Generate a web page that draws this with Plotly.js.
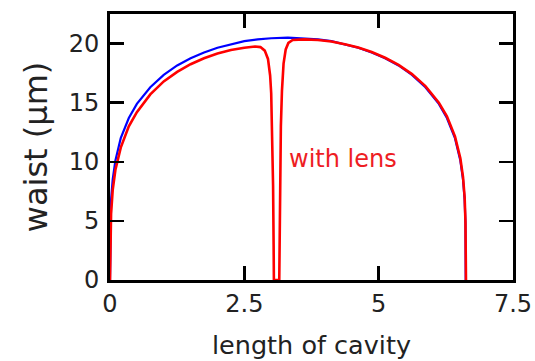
<!DOCTYPE html>
<html>
<head>
<meta charset="utf-8">
<script src="https://cdn.plot.ly/plotly-3.0.1.min.js"></script>
<style>
  html, body { margin: 0; padding: 0; background: #fff; }
  #chart { width: 535px; height: 361px; }
</style>
</head>
<body>
<div id="chart"></div>
<script>
// Beam waist along the cavity, without and with the intracavity lens
const cavityX = [0, 0.005, 0.02, 0.05, 0.1, 0.2, 0.35, 0.5, 0.75, 1.0, 1.25, 1.5, 1.75, 2.0, 2.25, 2.5, 2.75, 3.0, 3.31,
  3.62, 3.87, 4.12, 4.37, 4.62, 4.87, 5.12, 5.37, 5.62, 5.87, 6.12, 6.27, 6.42, 6.52, 6.57, 6.6, 6.615, 6.62];
const waistNoLens = [0, 4.8, 6.8, 8.5, 10.1, 12.0, 13.7, 14.9, 16.3, 17.35, 18.15, 18.75, 19.25, 19.65, 19.95, 20.2, 20.35, 20.45, 20.5,
  20.45, 20.35, 20.2, 19.95, 19.65, 19.25, 18.75, 18.15, 17.35, 16.3, 14.9, 13.7, 12.0, 10.1, 8.5, 6.8, 4.8, 0];

const lensX = [0, 0.005, 0.02, 0.05, 0.1, 0.2, 0.35, 0.5, 0.75, 1.0, 1.25, 1.5, 1.75, 2.0, 2.25, 2.5, 2.7, 2.8, 2.88, 2.94, 2.98,
  3.0, 3.02, 3.035, 3.045, 3.05, 3.15, 3.155, 3.165, 3.18, 3.2, 3.23, 3.27, 3.32, 3.4, 3.5, 3.62, 3.87, 4.12, 4.37, 4.62,
  4.87, 5.12, 5.37, 5.62, 5.87, 6.12, 6.27, 6.42, 6.52, 6.57, 6.6, 6.615, 6.625];
const waistLens = [0, 3.5, 5.6, 7.6, 9.3, 11.2, 13.0, 14.2, 15.7, 16.8, 17.6, 18.25, 18.75, 19.15, 19.45, 19.65, 19.75, 19.7, 19.4, 18.7, 17.3,
  15.8, 12.5, 8.0, 3.0, 0, 0, 3.0, 8.0, 13.0, 16.0, 18.3, 19.5, 20.05, 20.3, 20.35, 20.35, 20.3, 20.17, 19.95, 19.67,
  19.28, 18.8, 18.2, 17.42, 16.4, 15.0, 13.85, 12.15, 10.3, 8.7, 7.0, 5.0, 0];

const xTicks = [0, 2.5, 5, 7.5];
const xTickText = ['0', '2.5', '5', '7.5'];
const yTicks = [0, 5, 10, 15, 20];
const yTickText = ['0', '5', '10', '15', '20'];

const fontFamily = '"DejaVu Sans", "Liberation Sans", Arial, sans-serif';
const textColor = '#222';

const axisCommon = {
  showline: true, linecolor: '#000', linewidth: 3, mirror: 'ticks',
  ticks: 'inside', ticklen: 14, tickwidth: 2.5, tickcolor: '#000',
  showgrid: false, zeroline: false, tickmode: 'array',
  tickfont: { family: fontFamily, size: 24, color: textColor }
};

const traces = [
  { x: cavityX, y: waistNoLens, mode: 'lines', line: { color: '#0000ff', width: 2.2 }, hoverinfo: 'skip' },
  { x: lensX, y: waistLens, mode: 'lines', line: { color: '#ff0000', width: 2.6 }, hoverinfo: 'skip' }
];

const layout = {
  width: 535, height: 361,
  margin: { l: 110, r: 22, t: 14, b: 81 },
  paper_bgcolor: '#fff', plot_bgcolor: '#fff',
  showlegend: false,
  xaxis: Object.assign({}, axisCommon, {
    range: [0, 7.5], tickvals: xTicks, ticktext: xTickText,
    title: { text: 'length of cavity', font: { family: fontFamily, size: 25.5, color: textColor }, standoff: 20 }
  }),
  yaxis: Object.assign({}, axisCommon, {
    range: [0, 22.5], tickvals: yTicks, ticktext: yTickText, ticklabelstandoff: 3,
    title: { text: 'waist (μm)', font: { family: fontFamily, size: 32, color: textColor }, standoff: 12 }
  }),
  annotations: [{
    x: 4.34, y: 10.2, xref: 'x', yref: 'y', text: 'with lens', showarrow: false,
    font: { family: fontFamily, size: 24, color: '#ee1d23' }
  }]
};

Plotly.newPlot('chart', traces, layout, { staticPlot: true, displayModeBar: false });
</script>
</body>
</html>
